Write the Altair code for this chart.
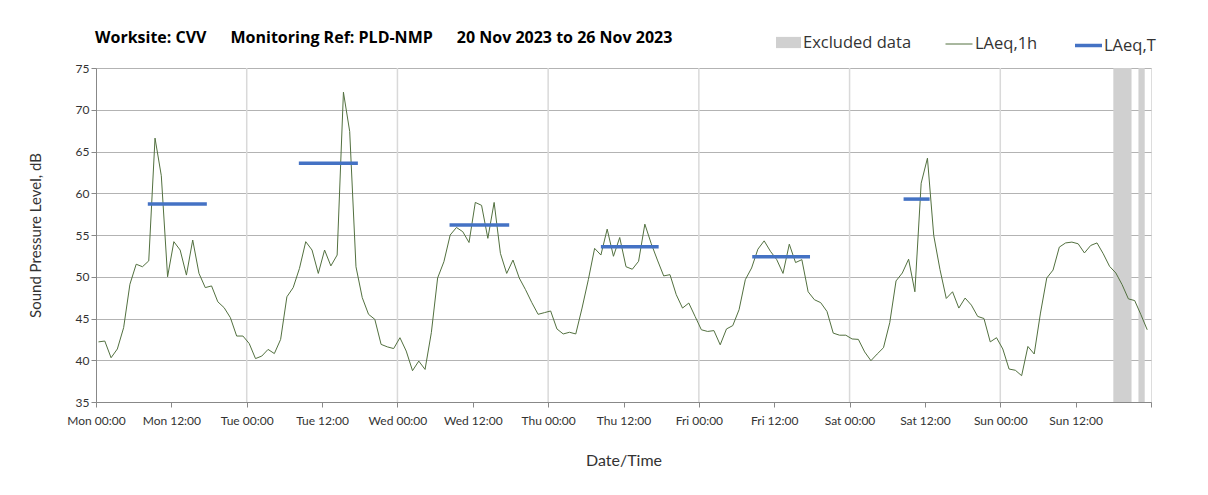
import altair as alt
import pandas as pd

# ---------------- data ----------------
laeq_1h = [
    42.2, 42.3, 40.3, 41.35, 43.9, 49.1, 51.5, 51.2, 51.9, 66.6, 62.1, 50.0,
    54.2, 53.2, 50.2, 54.4, 50.4, 48.7, 48.9, 47.0, 46.3, 45.1, 42.9, 42.9,
    42.0, 40.2, 40.5, 41.3, 40.8, 42.5, 47.6, 48.7, 51.0, 54.2, 53.2, 50.4,
    53.2, 51.3, 52.6, 72.1, 67.4, 51.2, 47.5, 45.5, 44.9, 41.9, 41.6, 41.4,
    42.7, 41.1, 38.75, 39.9, 38.9, 43.3, 49.85, 51.8, 55.0, 55.9, 55.4, 54.1,
    58.9, 58.55, 54.6, 58.9, 52.8, 50.4, 52.0, 49.85, 48.45, 46.9, 45.5, 45.7,
    45.9, 43.75, 43.15, 43.35, 43.15, 46.25, 49.65, 53.4, 52.6, 55.7, 52.45, 54.7,
    51.2, 50.9, 51.85, 56.3, 54.0, 52.0, 50.1, 50.25, 47.85, 46.25, 46.85, 45.25,
    43.65, 43.45, 43.55, 41.85, 43.75, 44.15, 46.05, 49.65, 51.05, 53.3, 54.3, 53.05,
    52.05, 50.4, 53.9, 51.7, 52.05, 48.2, 47.25, 46.9, 45.85, 43.25, 43.0, 43.0,
    42.55, 42.5, 41.0, 39.95, 40.75, 41.5, 44.5, 49.5, 50.45, 52.1, 48.2, 61.2,
    64.2, 54.95, 50.85, 47.4, 48.2, 46.25, 47.45, 46.6, 45.25, 45.0, 42.2, 42.7,
    41.35, 38.95, 38.8, 38.15, 41.65, 40.75, 45.65, 49.85, 50.8, 53.55, 54.05, 54.15,
    53.95, 52.85, 53.75, 54.05, 52.75, 51.25, 50.45, 49.05, 47.35, 47.15, 45.45, 43.65,
]
hour_offset = 0.4
hours = [i + hour_offset for i in range(len(laeq_1h))]

period_start = [8.25, 32.3, 56.3, 80.4, 104.5, 128.6]
period_end = [17.65, 41.7, 65.8, 89.6, 113.7, 132.75]
laeq_t = [58.7, 63.6, 56.2, 53.6, 52.4, 59.3]

excl_start = [162.0, 166.0]
excl_end = [164.9, 167.0]

day_lines = [24, 48, 72, 96, 120, 144]
tick_hours = list(range(0, 169, 12))
tick_labels = ["Mon 00:00", "Mon 12:00", "Tue 00:00", "Tue 12:00", "Wed 00:00",
               "Wed 12:00", "Thu 00:00", "Thu 12:00", "Fri 00:00", "Fri 12:00",
               "Sat 00:00", "Sat 12:00", "Sun 00:00", "Sun 12:00", ""]
y_ticks = [35, 40, 45, 50, 55, 60, 65, 70, 75]

title_text = ("Worksite: CVV\u2003\u2002Monitoring Ref: PLD-NMP\u2003\u2002"
              "20 Nov 2023 to 26 Nov 2023")

# ---------------- tables ----------------
df_line = pd.DataFrame({"hour": hours, "laeq": laeq_1h, "series": "LAeq,1h"})
df_t = pd.DataFrame({"start": period_start, "end": period_end, "laeq": laeq_t,
                     "series": "LAeq,T"})
df_ex = pd.DataFrame({"start": excl_start, "end": excl_end, "series": "Excluded data"})
df_days = pd.DataFrame({"h": day_lines})

W, H = 1055, 334
FONT = "Lato"
LFONT = "Open Sans"

label_arr = "[" + ",".join("'" + s + "'" for s in tick_labels) + "]"
x_axis = alt.Axis(values=tick_hours, labelExpr=label_arr + "[round(datum.value/12)]",
                  grid=False, tickSize=5, tickColor="#888888", domainColor="#888888",
                  labelFont=FONT, labelFontSize=12, labelColor="#333333",
                  labelPadding=8, labelFlush=False, labelOverlap=False,
                  title="Date/Time", titleFont=FONT, titleFontSize=16,
                  titleFontWeight="normal", titleColor="#333333", titlePadding=26)
y_axis = alt.Axis(values=y_ticks, grid=True, gridColor="#b3b3b3", gridWidth=1,
                  tickSize=5, tickColor="#888888", domainColor="#888888",
                  labelFont=FONT, labelFontSize=12, labelColor="#333333",
                  labelPadding=2,
                  title="Sound Pressure Level, dB", titleFont=FONT, titleFontSize=15,
                  titleFontWeight="normal", titleColor="#333333", titlePadding=32)

xs = alt.Scale(domain=[0, 168], nice=False, zero=False)
ys = alt.Scale(domain=[35, 75], nice=False, zero=False)


def legend(x, y, stype, size, sw, off):
    return alt.Legend(orient="none", legendX=x, legendY=y, title=None,
                      direction="horizontal", padding=0, labelFont=LFONT,
                      labelFontSize=16.5, labelColor="#333333", labelOffset=off,
                      symbolType=stype, symbolSize=size, symbolStrokeWidth=sw)


excluded = alt.Chart(df_ex).mark_rect(opacity=1).encode(
    x=alt.X("start:Q", scale=xs, axis=x_axis),
    x2="end:Q",
    y=alt.value(0), y2=alt.value(H),
    color=alt.Color("series:N",
                    scale=alt.Scale(domain=["Excluded data"], range=["#d0d0d0"]),
                    legend=legend(680, -38, "M-1,-0.45H1V0.45H-1Z", 625, 0, 2)),
)

vgrid = alt.Chart(df_days).mark_rule(color="#d9d9d9", strokeWidth=1.5).encode(
    x=alt.X("h:Q", scale=xs, axis=x_axis),
    y=alt.value(0), y2=alt.value(H),
)

line = alt.Chart(df_line).mark_line(strokeWidth=1).encode(
    x=alt.X("hour:Q", scale=xs, axis=x_axis),
    y=alt.Y("laeq:Q", scale=ys, axis=y_axis),
    color=alt.Color("series:N",
                    scale=alt.Scale(domain=["LAeq,1h"], range=["#52703f"]),
                    legend=legend(849, -38, "M-1,0H1", 729, 1, 2)),
)

lt = alt.Chart(df_t).mark_rule(strokeWidth=3.5, strokeCap="butt").encode(
    x=alt.X("start:Q", scale=xs, axis=x_axis),
    x2="end:Q",
    y=alt.Y("laeq:Q", scale=ys, axis=y_axis),
    color=alt.Color("series:N",
                    scale=alt.Scale(domain=["LAeq,T"], range=["#4472C4"]),
                    legend=legend(977, -38, "M-1,0H1", 729, 3.5, 0)),
)

chart = alt.layer(vgrid, excluded, line, lt).resolve_scale(
    color="independent"
).properties(
    width=W, height=H,
    title=alt.TitleParams(title_text, anchor="start", frame="group", font=LFONT,
                          fontSize=16, fontWeight="bold", color="#000000",
                          offset=20, dx=-1, dy=36),
    autosize=alt.AutoSizeParams(type="none"),
    padding={"left": 88, "top": 60, "right": 45, "bottom": 80},
).configure_view(
    stroke="#8c8c8c", strokeWidth=1
).configure(background="white")

chart.save("out.html", embed_options={"renderer": "svg", "actions": False})
